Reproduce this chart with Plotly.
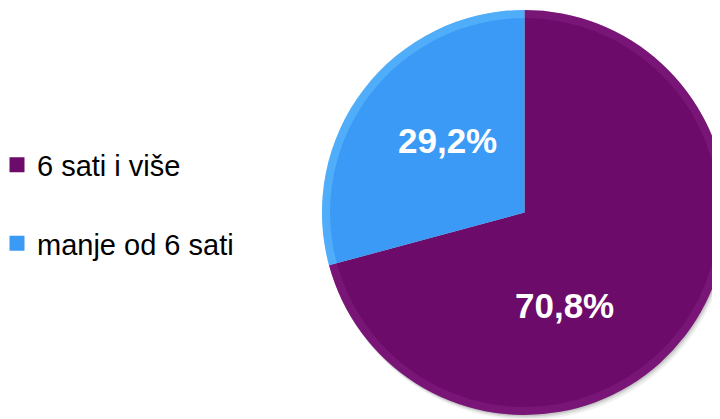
import plotly.graph_objects as go

categories = ["6 sati i više", "manje od 6 sati"]
values = [70.8, 29.2]
colors = ["#6C0B6A", "#3A9AF6"]
rim_colors = ["rgba(150,50,150,0.28)", "rgba(120,210,255,0.35)"]

# figure pixel geometry (style only)
W, H = 720, 419
PIE_L, PIE_R, PIE_T, PIE_B = 314, 719, 2, 407
label_px = [(556, 297), (439, 132)]

fig = go.Figure()

# soft drop shadow under the pie (offset right/down)
for off, alpha in [(5, 0.06), (3, 0.08), (1.5, 0.10)]:
    fig.add_shape(
        type="circle", xref="paper", yref="paper", layer="below",
        x0=(PIE_L + off * 0.6) / W, x1=(PIE_R + off * 0.6) / W,
        y0=1 - (PIE_B + off) / H, y1=1 - (PIE_T + off) / H,
        fillcolor=f"rgba(0,0,0,{alpha})", line=dict(width=0),
    )

domain = dict(x=[PIE_L / W, PIE_R / W], y=[1 - PIE_B / H, 1 - PIE_T / H])

fig.add_trace(go.Pie(
    labels=categories,
    values=values,
    sort=False,
    direction="clockwise",
    rotation=0,
    marker=dict(colors=colors, line=dict(width=0)),
    textinfo="none",
    hoverinfo="label+percent",
    showlegend=False,
    domain=domain,
))

# subtle bevel rim
fig.add_trace(go.Pie(
    labels=categories,
    values=values,
    sort=False,
    direction="clockwise",
    rotation=0,
    hole=0.96,
    marker=dict(colors=rim_colors, line=dict(width=0)),
    textinfo="none",
    hoverinfo="skip",
    showlegend=False,
    domain=domain,
))

for i, (cat, col) in enumerate(zip(categories, colors)):
    fig.add_trace(go.Scatter(
        x=[None], y=[None], mode="markers", name=cat,
        legendgroup=f"g{i}",
        marker=dict(symbol="square", size=15, color=col),
    ))

for v, (px, py) in zip(values, label_px):
    fig.add_annotation(
        x=px / W, y=1 - py / H, xref="paper", yref="paper",
        xanchor="center", yanchor="middle",
        text=f"<b>{v:.1f}%</b>".replace(".", ","),
        showarrow=False,
        font=dict(family="Liberation Sans, Arial", size=35, color="white"),
    )

fig.update_layout(
    width=W, height=H,
    margin=dict(l=0, r=0, t=0, b=0),
    paper_bgcolor="white", plot_bgcolor="white",
    xaxis=dict(visible=False), yaxis=dict(visible=False),
    font=dict(family="Liberation Sans, Arial", color="black"),
    legend=dict(
        x=0, y=0.5315, xanchor="left", yanchor="middle",
        indentation=-11,
        font=dict(size=29, color="black"),
        tracegroupgap=38,
        bgcolor="rgba(0,0,0,0)",
        traceorder="grouped",
    ),
)

fig.write_html("out.html")
